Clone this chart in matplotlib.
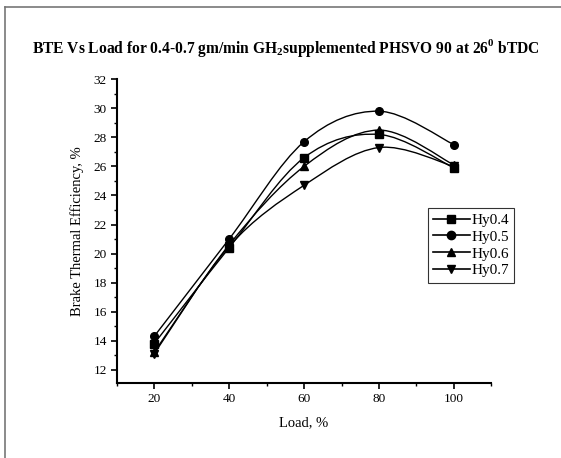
import numpy as np
import matplotlib; matplotlib.use("Agg")
import matplotlib.pyplot as plt
from matplotlib.path import Path
from matplotlib.patches import PathPatch
from matplotlib.lines import Line2D
from matplotlib.ticker import MultipleLocator

plt.rcParams["font.family"] = "Liberation Serif"
plt.rcParams["mathtext.fontset"] = "custom"
plt.rcParams["mathtext.rm"] = "Liberation Serif:bold"

# ── Veri ────────────────────────────────────────────────────────────────
load   = [20, 40, 60, 80, 100]
hy04   = [13.8, 20.4, 26.6, 28.2, 25.9]
hy05   = [14.3, 21.0, 27.7, 29.8, 27.5]
hy06   = [13.2, 20.6, 26.0, 28.5, 26.1]
hy07   = [13.1, 20.5, 24.7, 27.3, 26.0]
labels = ["Hy0.4", "Hy0.5", "Hy0.6", "Hy0.7"]
series = [hy04, hy05, hy06, hy07]
markers = ["s", "o", "^", "v"]


def smooth_path(x, y):
    # Catmull-Rom -> Bezier, veri koordinatlarında
    x = np.asarray(x, float); y = np.asarray(y, float)
    p = np.column_stack([x, y])
    verts = [p[0]]; codes = [Path.MOVETO]
    n = len(p)
    for i in range(n - 1):
        p0 = p[i - 1] if i > 0 else p[i]
        p3 = p[i + 2] if i + 2 < n else p[i + 1]
        c1 = p[i] + (p[i + 1] - p0) / 6.0
        c2 = p[i + 1] - (p3 - p[i]) / 6.0
        verts += [c1, c2, p[i + 1]]
        codes += [Path.CURVE4] * 3
    return Path(verts, codes)


fig = plt.figure(figsize=(5.61, 4.58), dpi=100)
ax = fig.add_axes([0.208, 0.164, 0.668, 0.663])

for ys, m in zip(series, markers):
    ax.add_patch(PathPatch(smooth_path(load, ys), fill=False, edgecolor="black",
                           lw=1.0, transform=ax.transData))
    ax.plot(load, ys, linestyle="none", marker=m, color="black", markersize=5.5)

ax.set_xlim(10, 110)
ax.set_ylim(11.1, 32)
ax.xaxis.set_major_locator(MultipleLocator(20))
ax.xaxis.set_minor_locator(MultipleLocator(10))
ax.yaxis.set_major_locator(MultipleLocator(2))
ax.yaxis.set_minor_locator(MultipleLocator(1))
ax.spines["top"].set_visible(False)
ax.spines["right"].set_visible(False)
ax.spines["left"].set_linewidth(1.5)
ax.spines["bottom"].set_linewidth(1.5)
ax.tick_params(which="major", direction="out", length=4, width=1.2, labelsize=9.5, pad=3)
ax.tick_params(which="minor", direction="out", length=2.5, width=1.0)
ax.set_xlabel("Load, %", fontsize=10.5, labelpad=8)
ax.set_ylabel("Brake Thermal Efficiency, %", fontsize=10.5, labelpad=7)

handles = [Line2D([], [], color="black", lw=1.2, marker=m, markersize=6)
           for m in markers]
leg = ax.legend(handles, labels, loc="upper left", bbox_to_anchor=(0.83, 0.576),
                fontsize=11, frameon=True, fancybox=False, borderpad=0.35,
                labelspacing=0.2, handlelength=2.4, handletextpad=0.1,
                borderaxespad=0)
leg.get_frame().set_edgecolor("black")
leg.get_frame().set_linewidth(0.8)

fig.text(0.51, 0.895, r"BTE Vs Load for 0.4-0.7 gm/min GH$_2$supplemented PHSVO 90 at 26$^0$ bTDC",
         ha="center", va="center", fontsize=11.2, fontweight="bold")

# dış çerçeve (üst ve sol)
fig.add_artist(Line2D([5 / 561, 1.0], [1 - 7 / 458, 1 - 7 / 458], color="#777777", lw=1.2,
                      transform=fig.transFigure))
fig.add_artist(Line2D([5 / 561, 5 / 561], [0, 1 - 7 / 458], color="#777777", lw=1.2,
                      transform=fig.transFigure))

fig.savefig("out.png", dpi=100)
